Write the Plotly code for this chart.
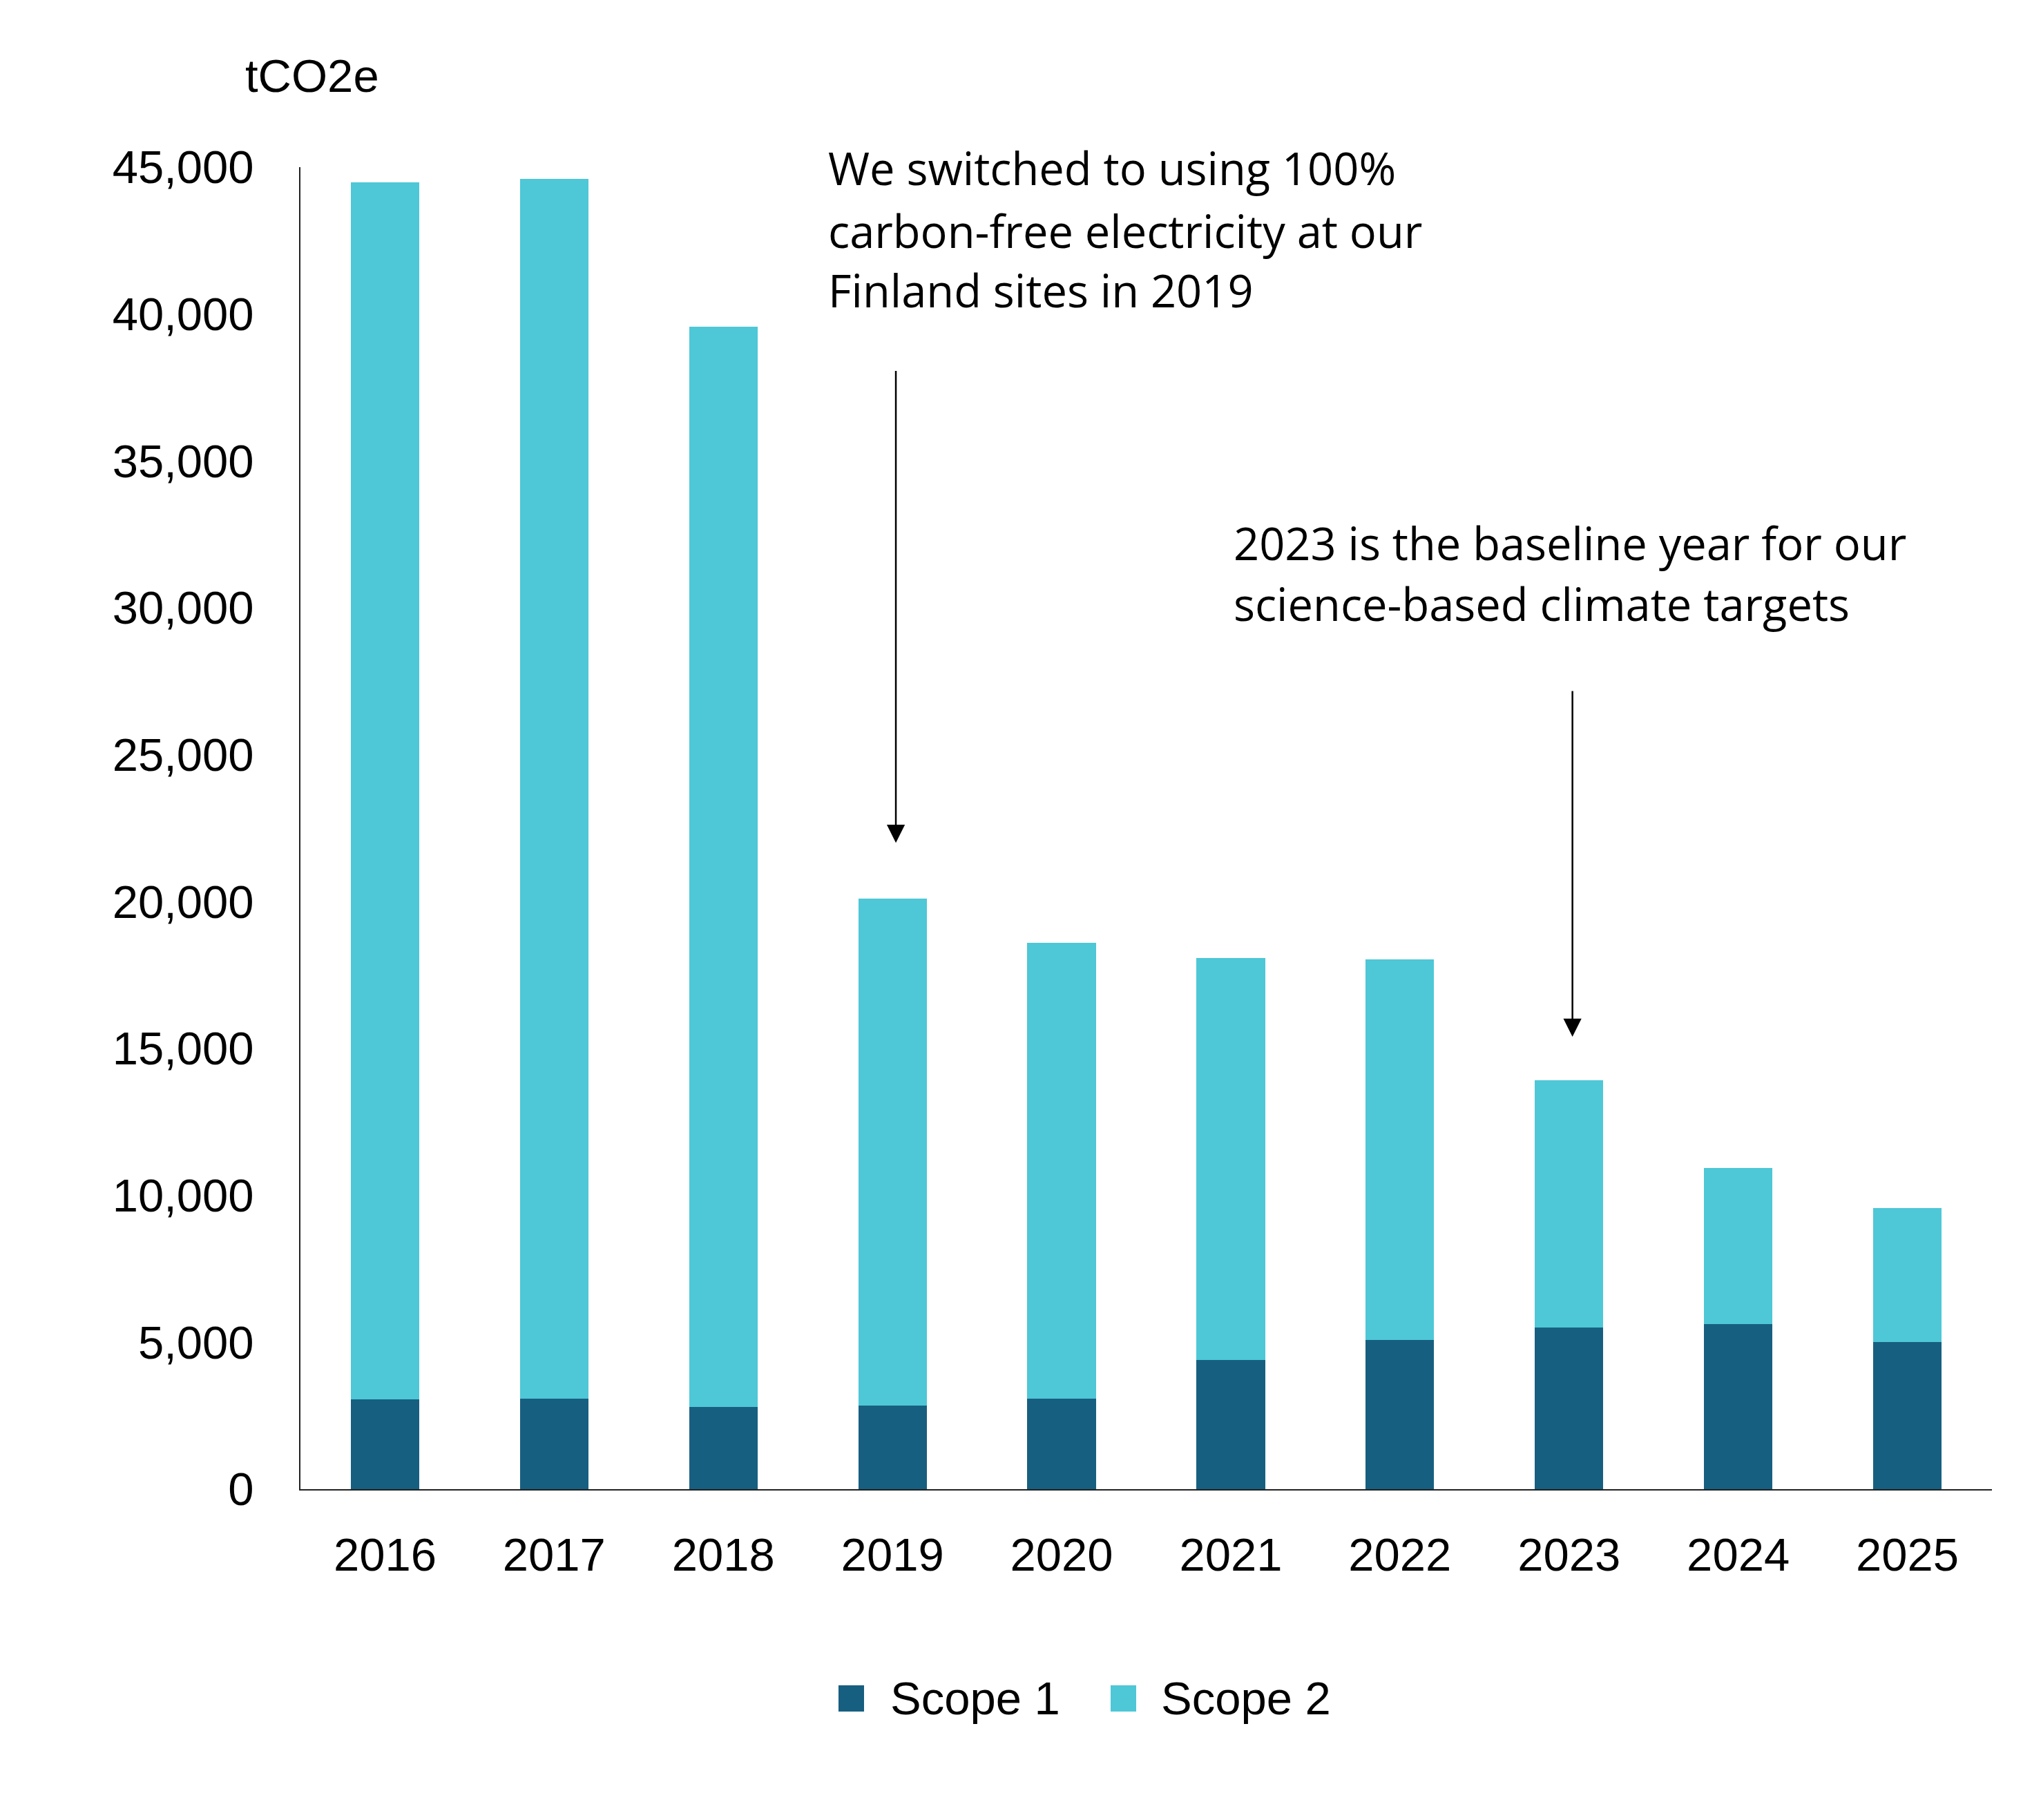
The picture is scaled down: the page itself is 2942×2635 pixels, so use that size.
import plotly.graph_objects as go

years = [2016, 2017, 2018, 2019, 2020, 2021, 2022, 2023, 2024, 2025]
scope1 = [3060, 3075, 2800, 2850, 3090, 4390, 5090, 5495, 5610, 5005]
scope2 = [41420, 41515, 36770, 17260, 15510, 13700, 12940, 8435, 5330, 4555]
series_names = ["Scope 1", "Scope 2"]
y_ticks = [0, 5000, 10000, 15000, 20000, 25000, 30000, 35000, 40000, 45000]
note1_lines = ["We switched to using 100%", "carbon-free electricity at our", "Finland sites in 2019"]
note2_lines = ["2023 is the baseline year for our", "science-based climate targets"]
unit_label = "tCO2e"

C_DARK = "#175F80"
C_LIGHT = "#4EC7D7"
TICK_FONT = "Liberation Sans, Arial, sans-serif"
NOTE_FONT = "Open Sans, sans-serif"
TICK_SIZE = 67
NOTE_SIZE = 65

W, H = 2942, 2635
L, R, T, B = 435, 58, 242, 479
PW, PH = W - L - R, H - T - B


def px(xp):
    return (xp - L) / PW


def py(yp):
    return (H - B - yp) / PH


fig = go.Figure()
fig.add_trace(go.Bar(x=years, y=scope1, name=series_names[0], marker_color=C_DARK,
                     marker_line_width=0, width=0.405, showlegend=False))
fig.add_trace(go.Bar(x=years, y=scope2, name=series_names[1], marker_color=C_LIGHT,
                     marker_line_width=0, width=0.405, showlegend=False))

annotations = []
annotations.append(dict(x=px(353), y=py(109), xref="paper", yref="paper", text=unit_label,
                        showarrow=False, xanchor="left", yanchor="middle",
                        font=dict(family=TICK_FONT, size=TICK_SIZE, color="black")))
for line, yc in zip(note1_lines, [243, 334, 420]):
    annotations.append(dict(x=px(1197), y=py(yc), xref="paper", yref="paper", text=line,
                            showarrow=False, xanchor="left", yanchor="middle",
                            font=dict(family=NOTE_FONT, size=NOTE_SIZE, color="black")))
for line, yc in zip(note2_lines, [786, 874]):
    annotations.append(dict(x=px(1784), y=py(yc), xref="paper", yref="paper", text=line,
                            showarrow=False, xanchor="left", yanchor="middle",
                            font=dict(family=NOTE_FONT, size=NOTE_SIZE, color="black")))
annotations.append(dict(x=2019.02, y=22000, ax=2019.02, ay=38100, xref="x", yref="y",
                        axref="x", ayref="y", text="", showarrow=True, arrowhead=2,
                        arrowsize=2.1, arrowwidth=2.5, arrowcolor="black", standoff=0))
annotations.append(dict(x=2023.02, y=15400, ax=2023.02, ay=27200, xref="x", yref="y",
                        axref="x", ayref="y", text="", showarrow=True, arrowhead=2,
                        arrowsize=2.1, arrowwidth=2.5, arrowcolor="black", standoff=0))
annotations.append(dict(x=px(1287), y=py(2458), xref="paper", yref="paper", text=series_names[0],
                        showarrow=False, xanchor="left", yanchor="middle",
                        font=dict(family=TICK_FONT, size=TICK_SIZE, color="black")))
annotations.append(dict(x=px(1679), y=py(2458), xref="paper", yref="paper", text=series_names[1],
                        showarrow=False, xanchor="left", yanchor="middle",
                        font=dict(family=TICK_FONT, size=TICK_SIZE, color="black")))

shapes = [
    dict(type="rect", xref="paper", yref="paper", x0=px(1214), x1=px(1251), y0=py(2478), y1=py(2440),
         fillcolor=C_DARK, line_width=0),
    dict(type="rect", xref="paper", yref="paper", x0=px(1608), x1=px(1645), y0=py(2478), y1=py(2440),
         fillcolor=C_LIGHT, line_width=0),
]

fig.update_layout(
    width=W, height=H,
    margin=dict(l=L, r=R, t=T, b=B, pad=0),
    barmode="stack",
    plot_bgcolor="white", paper_bgcolor="white",
    showlegend=False,
    annotations=annotations,
    shapes=shapes,
    font=dict(family=TICK_FONT, size=TICK_SIZE, color="black"),
)
fig.update_xaxes(range=[2015.5, 2025.5], tickvals=years, ticktext=[str(y) for y in years],
                 showgrid=False, zeroline=False, showline=True, linecolor="#222", linewidth=2,
                 ticks="", ticklabelstandoff=36, tickfont=dict(family=TICK_FONT, size=TICK_SIZE, color="black"),
                 fixedrange=True)
fig.update_yaxes(range=[0, 45000], tickvals=y_ticks, ticktext=[f"{v:,}" for v in y_ticks],
                 showgrid=False, zeroline=False, showline=True, linecolor="#222", linewidth=2,
                 ticks="", ticklabelstandoff=52, tickfont=dict(family=TICK_FONT, size=TICK_SIZE, color="black"),
                 fixedrange=True)

fig.write_html("out.html")
